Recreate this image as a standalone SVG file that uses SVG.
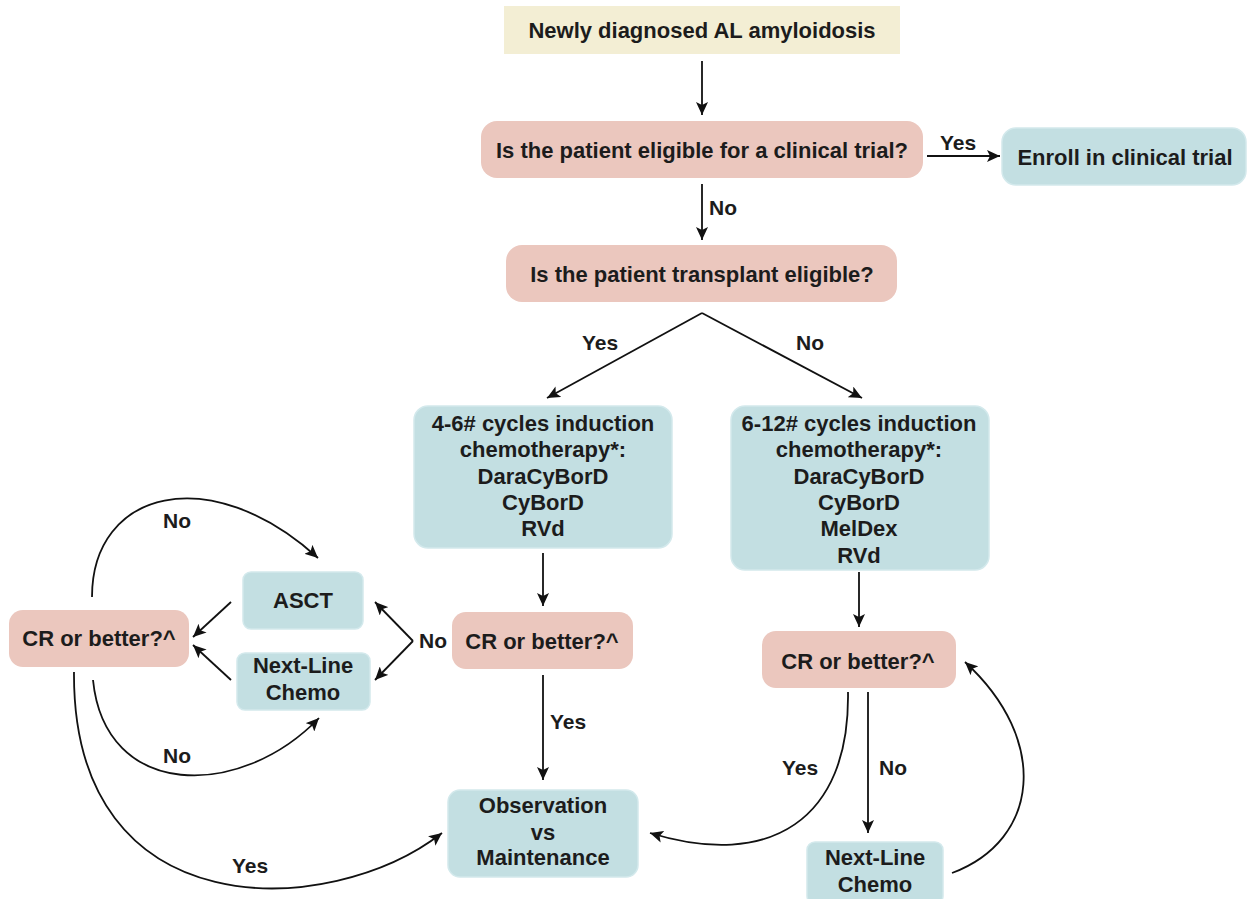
<svg xmlns="http://www.w3.org/2000/svg" width="1247" height="899" viewBox="0 0 1247 899">
<style>
text{font-family:"Liberation Sans",Arial,sans-serif;font-weight:bold;fill:#1c1c1c;text-anchor:middle}
.t{font-size:22px}
.l{font-size:21px}
.cream{fill:#f3eed4}
.pink{fill:#ebc7be}
.blue{fill:#c3dfe2;stroke:#d3e9ec;stroke-width:1.5}
.c{fill:none;stroke:#111;stroke-width:1.8}
</style>
<defs>
<marker id="ah" markerUnits="userSpaceOnUse" markerWidth="14" markerHeight="12" refX="13" refY="6" orient="auto">
<path d="M0,0 L13,6 L0,12 L3,6 z" fill="#111"/>
</marker>
</defs>
<rect width="1247" height="899" fill="#fff"/>

<g id="start"><rect class="cream" x="504" y="6" width="396" height="48"/><text class="t" x="702" y="38">Newly diagnosed AL amyloidosis</text></g>
<g id="q-trial"><rect class="pink" x="481" y="121" width="442" height="57" rx="16"/><text class="t" x="702" y="158">Is the patient eligible for a clinical trial?</text></g>
<g id="enroll"><rect class="blue" x="1002" y="128" width="244" height="57" rx="14"/><text class="t" x="1125" y="165">Enroll in clinical trial</text></g>
<g id="q-transplant"><rect class="pink" x="506" y="245" width="391" height="57" rx="16"/><text class="t" x="702" y="282">Is the patient transplant eligible?</text></g>
<g id="induction-te"><rect class="blue" x="414" y="406" width="258" height="142" rx="14"/>
<text class="t" x="543"><tspan x="543" y="431">4-6# cycles induction</tspan><tspan x="543" y="457">chemotherapy*:</tspan><tspan x="543" y="484">DaraCyBorD</tspan><tspan x="543" y="510">CyBorD</tspan><tspan x="543" y="536">RVd</tspan></text></g>
<g id="induction-nte"><rect class="blue" x="731" y="406" width="258" height="164" rx="14"/>
<text class="t" x="859"><tspan x="859" y="431">6-12# cycles induction</tspan><tspan x="859" y="457">chemotherapy*:</tspan><tspan x="859" y="484">DaraCyBorD</tspan><tspan x="859" y="510">CyBorD</tspan><tspan x="859" y="536">MelDex</tspan><tspan x="859" y="563">RVd</tspan></text></g>
<g id="cr-mid"><rect class="pink" x="452" y="612" width="181" height="57" rx="14"/><text class="t" x="542" y="649">CR or better?^</text></g>
<g id="cr-right"><rect class="pink" x="762" y="631" width="194" height="57" rx="14"/><text class="t" x="858" y="669">CR or better?^</text></g>
<g id="cr-left"><rect class="pink" x="9" y="610" width="180" height="57" rx="14"/><text class="t" x="99" y="646">CR or better?^</text></g>
<g id="asct"><rect class="blue" x="243" y="572" width="120" height="57" rx="8"/><text class="t" x="303" y="608">ASCT</text></g>
<g id="nextline-left"><rect class="blue" x="237" y="653" width="133" height="57" rx="8"/>
<text class="t" x="303"><tspan x="303" y="673">Next-Line</tspan><tspan x="303" y="700">Chemo</tspan></text></g>
<g id="observation"><rect class="blue" x="448" y="790" width="190" height="87" rx="12"/>
<text class="t" x="543"><tspan x="543" y="813">Observation</tspan><tspan x="543" y="840">vs</tspan><tspan x="543" y="865">Maintenance</tspan></text></g>
<g id="nextline-right"><rect class="blue" x="807" y="842" width="136" height="62" rx="8"/>
<text class="t" x="875"><tspan x="875" y="865">Next-Line</tspan><tspan x="875" y="892">Chemo</tspan></text></g>

<g id="connectors">
<path class="c" marker-end="url(#ah)" d="M702,61 L702,115"/>
<path class="c" marker-end="url(#ah)" d="M927,156 L1000,156"/>
<path class="c" marker-end="url(#ah)" d="M702,184 L702,240"/>
<path class="c" marker-end="url(#ah)" d="M702,313 L547,398"/>
<path class="c" marker-end="url(#ah)" d="M702,313 L862,398"/>
<path class="c" marker-end="url(#ah)" d="M543,553 L543,606"/>
<path class="c" marker-end="url(#ah)" d="M859,572 L859,627"/>
<path class="c" marker-end="url(#ah)" d="M543,675 L543,780"/>
<path class="c" marker-end="url(#ah)" d="M413,641 L375,602"/>
<path class="c" marker-end="url(#ah)" d="M413,641 L375,680"/>
<path class="c" marker-end="url(#ah)" d="M231,602 L193,637"/>
<path class="c" marker-end="url(#ah)" d="M231,680 L193,645"/>
<path class="c" marker-end="url(#ah)" d="M92,597 C92,490 210,460 318,558"/>
<path class="c" marker-end="url(#ah)" d="M93,680 C105,800 240,800 319,718"/>
<path class="c" marker-end="url(#ah)" d="M74,672 C72,930 330,920 442,833"/>
<path class="c" marker-end="url(#ah)" d="M848,692 C850,820 770,870 650,833"/>
<path class="c" marker-end="url(#ah)" d="M868,692 L868,833"/>
<path class="c" marker-end="url(#ah)" d="M952,873 C1040,840 1050,740 965,662"/>
<text class="l" x="958" y="150">Yes</text>
<text class="l" x="723" y="215">No</text>
<text class="l" x="600" y="350">Yes</text>
<text class="l" x="810" y="350">No</text>
<text class="l" x="433" y="648">No</text>
<text class="l" x="568" y="729">Yes</text>
<text class="l" x="177" y="528">No</text>
<text class="l" x="177" y="763">No</text>
<text class="l" x="250" y="873">Yes</text>
<text class="l" x="800" y="775">Yes</text>
<text class="l" x="893" y="775">No</text>
</g>
</svg>
